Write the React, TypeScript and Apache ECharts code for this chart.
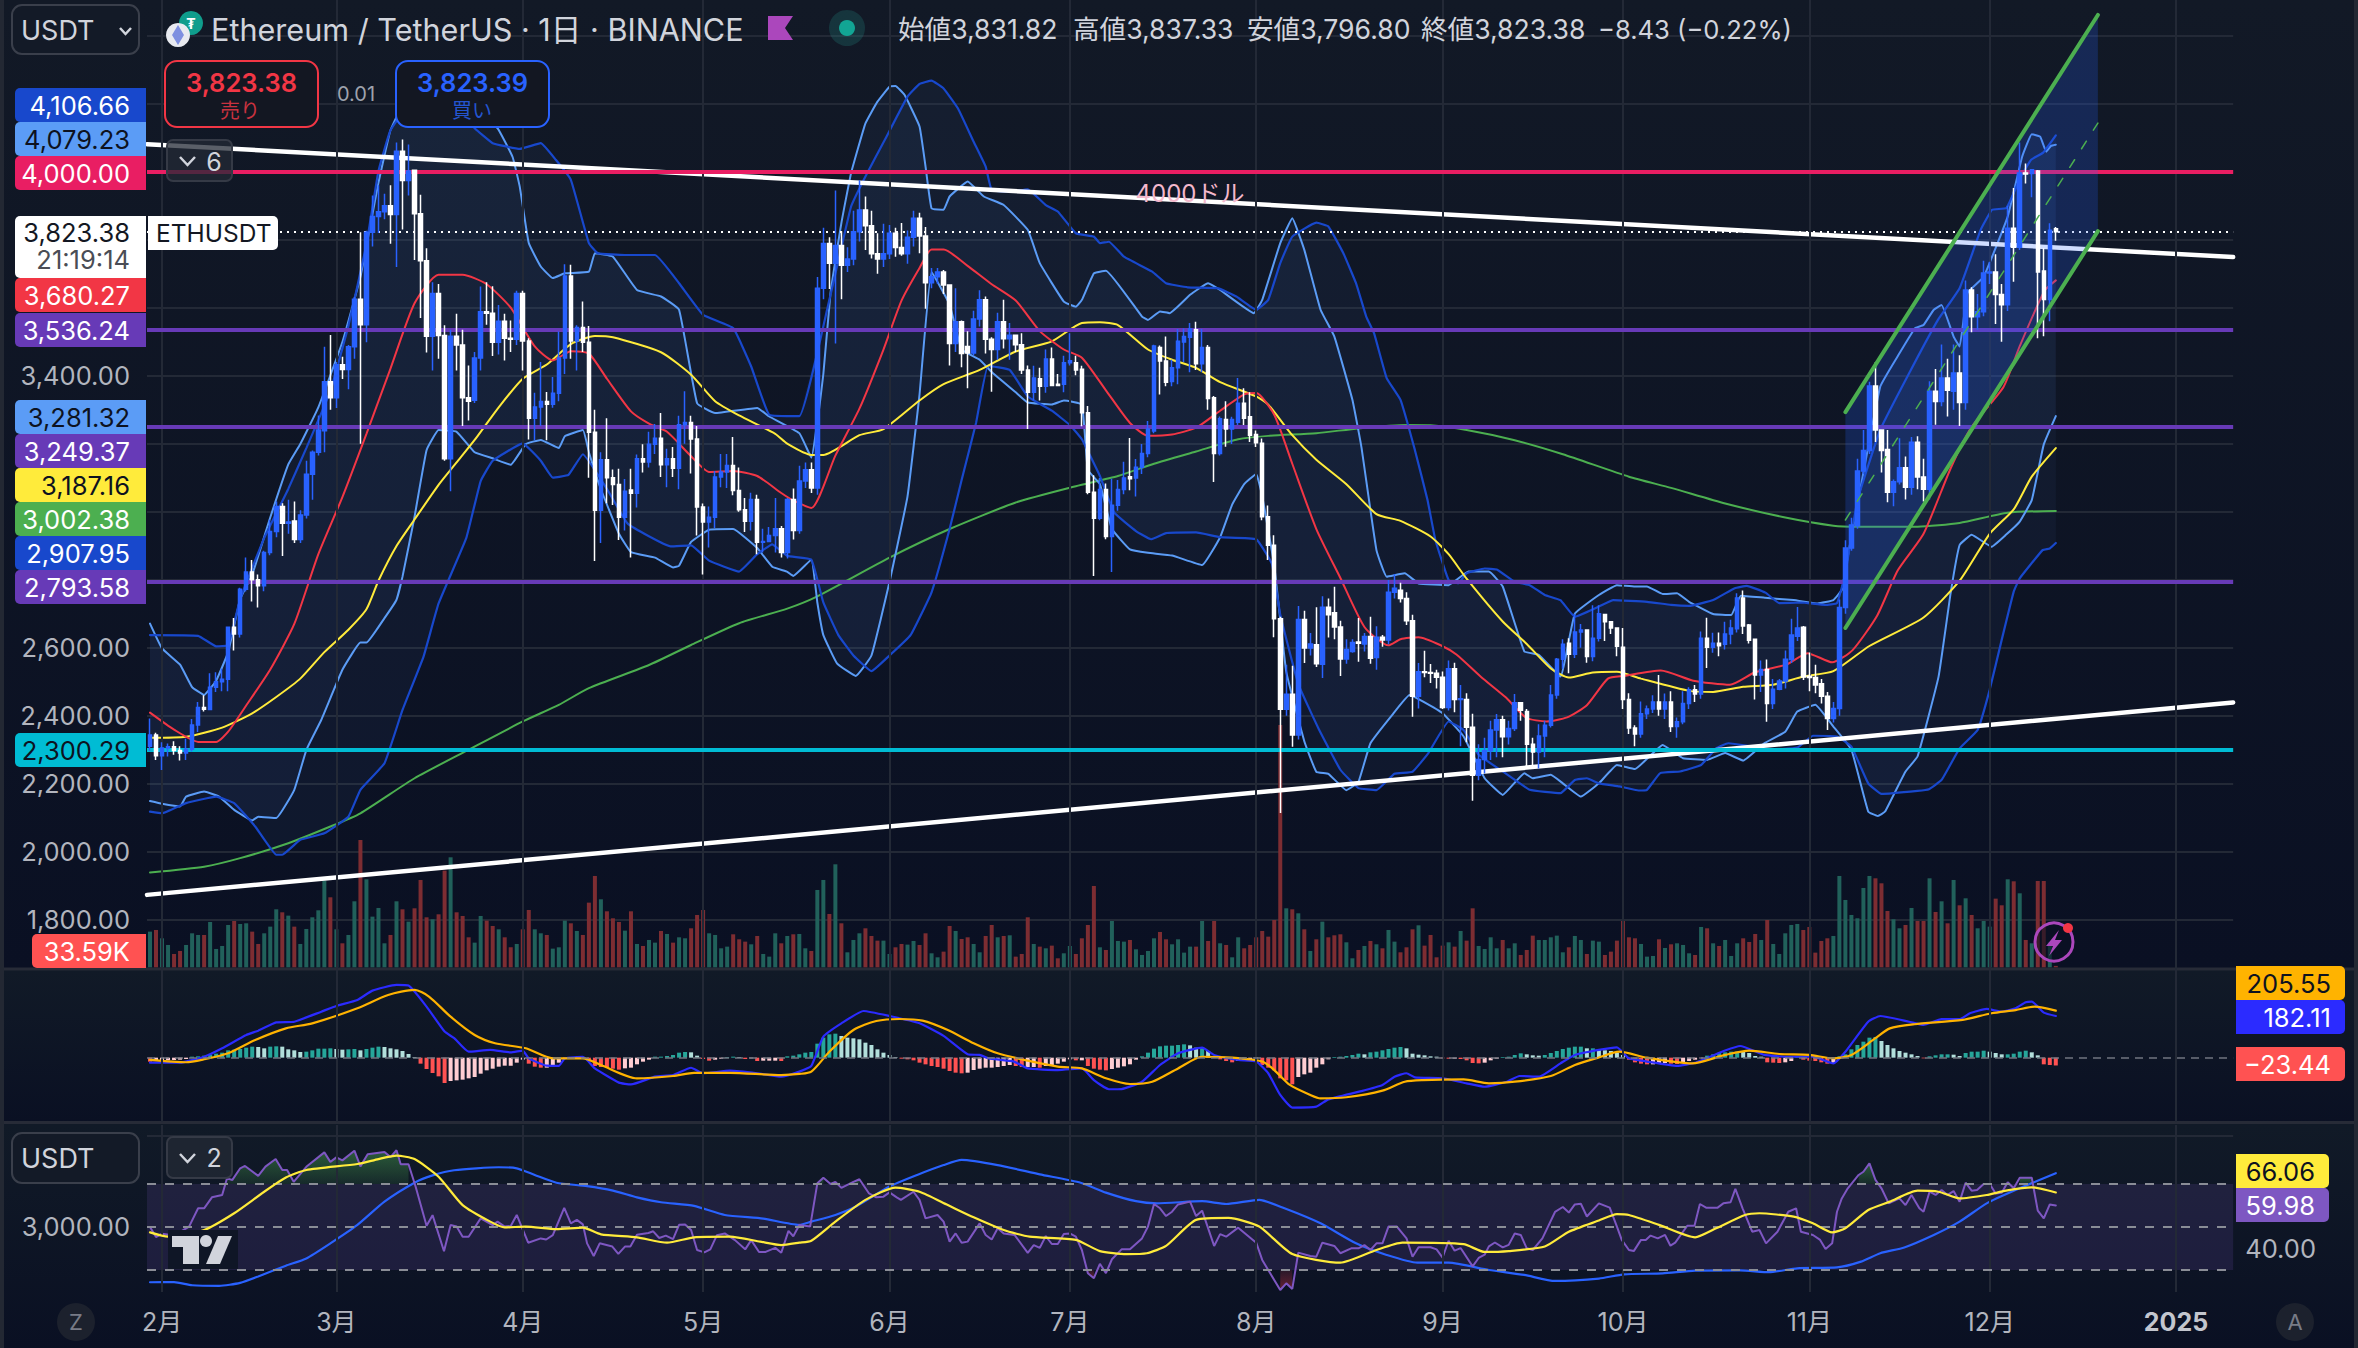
import React, { useEffect, useRef } from "react";
import * as echarts from "echarts";

// ---------- candles: [open, close, low, high] ----------
const candlesJan = [[2310,2343,2296,2392],[2343,2282,2270,2350]];
const candlesFeb = [[2282,2305,2240,2322],[2305,2309,2280,2318],[2309,2298,2285,2325],[2298,2290,2268,2310],[2290,2301,2270,2332],[2301,2373,2295,2390],[2373,2424,2352,2440],[2424,2419,2412,2460],[2418,2484,2416,2525],[2484,2500,2470,2528],[2500,2507,2472,2538],[2507,2660,2472,2662],[2660,2640,2592,2687],[2640,2772,2630,2776],[2772,2823,2765,2865],[2823,2800,2736,2858],[2800,2782,2718,2815],[2782,2880,2766,2885],[2880,2942,2872,2976],[2942,3015,2925,3030],[3015,2966,2870,3025],[2966,2970,2935,3035],[2973,2918,2908,3030],[2918,2990,2908,3004],[2990,3110,2980,3150],[3110,3175,3035,3180],[3175,3240,3165,3283],[3238,3382,3175,3485],[3382,3335,3300,3520]];
const candlesMar = [[3335,3432,3305,3440],[3432,3418,3390,3456],[3418,3485,3360,3490],[3485,3625,3450,3632],[3625,3550,3200,3822],[3550,3822,3498,3826],[3822,3868,3780,3930],[3868,3882,3820,3960],[3882,3900,3860,3935],[3900,3874,3788,3960],[3874,4060,3720,4086],[4060,3974,3830,4095],[3974,4002,3930,4080],[4004,3876,3740,4006],[3876,3738,3570,3932],[3738,3516,3468,3775],[3516,3642,3415,3675],[3642,3518,3450,3670],[3518,3156,3150,3548],[3156,3516,3060,3535],[3516,3490,3415,3582],[3490,3335,3252,3535],[3335,3325,3268,3430],[3328,3452,3320,3470],[3452,3588,3415,3662],[3588,3584,3550,3675],[3584,3498,3458,3663],[3498,3560,3462,3608],[3560,3510,3445,3582],[3510,3507,3470,3562],[3507,3642,3490,3650]];
const candlesApr = [[3642,3502,3415,3650],[3502,3275,3212,3510],[3275,3308,3210,3350],[3308,3324,3252,3440],[3324,3316,3210,3352],[3316,3348,3306,3396],[3348,3452,3325,3530],[3452,3693,3405,3728],[3693,3502,3450,3726],[3502,3542,3415,3548],[3542,3498,3470,3618],[3498,3234,3100,3546],[3234,3004,2855,3300],[3004,3153,2908,3175],[3153,3100,3025,3275],[3100,3080,3020,3124],[3080,2984,2917,3126],[2984,3060,2945,3096],[3064,3054,2865,3126],[3054,3156,3012,3168],[3156,3146,3115,3198],[3146,3198,3130,3235],[3198,3216,3170,3258],[3216,3138,3102,3290],[3138,3156,3072,3185],[3156,3128,3102,3190],[3128,3256,3066,3282],[3256,3262,3200,3354],[3262,3214,3112,3282],[3214,3014,2930,3252]];
const candlesMay = [[3014,2970,2815,3024],[2970,2984,2895,3015],[2984,3102,2952,3120],[3102,3117,3072,3170],[3117,3136,3070,3170],[3136,3062,3048,3220],[3062,3006,3000,3130],[3006,2972,2940,3040],[2972,3036,2945,3056],[3036,2910,2875,3050],[2910,2912,2880,2950],[2912,2930,2910,2955],[2930,2950,2880,3040],[2950,2880,2865,2958],[2880,3036,2862,3040],[3036,2945,2918,3068],[2945,3090,2935,3135],[3090,3123,3070,3145],[3123,3070,3055,3145],[3070,3657,3050,3690],[3657,3789,3625,3835],[3789,3731,3655,3807],[3731,3783,3495,3945],[3783,3725,3625,3825],[3725,3743,3705,3778],[3743,3823,3725,3885],[3823,3887,3795,3975],[3887,3841,3770,3927],[3841,3759,3745,3885],[3759,3743,3700,3819],[3743,3759,3720,3847]];
const candlesJun = [[3759,3819,3743,3843],[3819,3777,3750,3835],[3777,3759,3753,3849],[3759,3807,3729,3827],[3807,3863,3780,3885],[3863,3811,3760,3879],[3811,3673,3597,3837],[3673,3691,3657,3717],[3691,3705,3670,3717],[3705,3667,3640,3711],[3667,3495,3430,3667],[3495,3559,3470,3657],[3559,3465,3425,3562],[3486,3467,3363,3531],[3467,3567,3460,3591],[3567,3623,3545,3651],[3623,3507,3465,3633],[3507,3477,3353,3513],[3477,3559,3447,3585],[3559,3509,3480,3623],[3509,3519,3447,3555],[3519,3491,3470,3520],[3491,3417,3405,3525],[3417,3351,3243,3430],[3351,3393,3327,3429],[3391,3369,3327,3423],[3369,3449,3350,3477],[3449,3371,3369,3483],[3375,3371,3369,3405],[3375,3438,3351,3459]];
const candlesJul = [[3438,3444,3430,3525],[3438,3417,3401,3459],[3419,3291,3251,3429],[3291,3057,3051,3311],[3057,2981,2811,3107],[2981,3065,2975,3099],[3065,2927,2919,3083],[2927,3019,2823,3097],[3019,3065,3003,3093],[3065,3099,3051,3147],[3103,3097,3063,3217],[3099,3131,3045,3155],[3131,3171,3111,3199],[3171,3243,3160,3267],[3237,3487,3231,3491],[3483,3443,3345,3489],[3443,3381,3369,3515],[3383,3423,3369,3447],[3423,3501,3375,3537],[3499,3515,3440,3539],[3513,3537,3410,3555],[3535,3435,3417,3559],[3435,3483,3411,3537],[3483,3333,3300,3490],[3335,3171,3087,3340],[3171,3273,3165,3280],[3271,3243,3191,3325],[3243,3271,3199,3279],[3263,3319,3255,3393],[3319,3275,3255,3363],[3279,3225,3205,3351]];
const candlesAug = [[3227,3203,3190,3239],[3201,2985,2975,3215],[2985,2901,2858,3018],[2901,2685,2631,2931],[2685,2419,2114,2691],[2419,2463,2400,2550],[2463,2343,2309,2547],[2343,2683,2330,2723],[2683,2599,2555,2709],[2599,2611,2577,2643],[2609,2553,2543,2719],[2551,2719,2511,2751],[2719,2697,2630,2745],[2703,2661,2625,2779],[2661,2567,2517,2679],[2567,2595,2553,2625],[2589,2615,2585,2625],[2617,2613,2559,2687],[2611,2633,2589,2643],[2633,2569,2553,2691],[2571,2631,2535,2663],[2631,2623,2603,2637],[2623,2763,2610,2799],[2763,2775,2745,2817],[2769,2745,2733,2791],[2745,2679,2667,2763],[2679,2457,2397,2697],[2457,2529,2421,2555],[2529,2527,2513,2591],[2527,2525,2496,2552],[2525,2513,2480,2535]];
const candlesSep = [[2513,2424,2420,2530],[2424,2538,2415,2562],[2538,2448,2410,2556],[2448,2450,2310,2490],[2448,2366,2322,2466],[2366,2225,2150,2406],[2225,2271,2210,2316],[2271,2297,2230,2335],[2297,2358,2270,2385],[2358,2388,2278,2405],[2388,2338,2278,2400],[2338,2362,2315,2385],[2362,2438,2355,2464],[2438,2416,2385,2440],[2412,2316,2250,2420],[2316,2293,2255,2335],[2293,2340,2245,2375],[2340,2372,2278,2385],[2372,2461,2365,2490],[2461,2566,2450,2570],[2566,2610,2538,2625],[2613,2581,2525,2628],[2581,2646,2570,2700],[2646,2652,2600,2670],[2652,2574,2556,2652],[2574,2628,2560,2725],[2628,2700,2618,2725],[2698,2676,2620,2700],[2676,2658,2640,2678],[2658,2604,2575,2660]];
const candlesOct = [[2601,2448,2420,2658],[2448,2364,2346,2466],[2364,2346,2310,2372],[2346,2406,2335,2442],[2406,2420,2390,2430],[2420,2440,2408,2460],[2440,2420,2400,2520],[2420,2440,2390,2465],[2440,2368,2352,2472],[2368,2382,2335,2395],[2382,2436,2375,2472],[2436,2476,2420,2484],[2476,2464,2440,2490],[2464,2628,2450,2648],[2628,2601,2540,2688],[2601,2613,2585,2644],[2613,2606,2575,2645],[2610,2640,2595,2676],[2640,2658,2610,2682],[2656,2746,2645,2760],[2746,2664,2640,2768],[2667,2622,2612,2670],[2625,2520,2448,2625],[2520,2536,2470,2562],[2536,2436,2382,2565],[2436,2478,2420,2508],[2478,2502,2475,2508],[2502,2566,2480,2592],[2565,2637,2555,2685],[2634,2658,2620,2720],[2660,2514,2505,2664]];
const candlesNov = [[2516,2512,2472,2586],[2512,2490,2466,2550],[2494,2457,2436,2508],[2457,2392,2358,2470],[2392,2421,2380,2440],[2421,2718,2400,2742],[2718,2893,2700,2916],[2893,2961,2885,2982],[2959,3120,2950,3156],[3120,3180,3110,3240],[3180,3370,3170,3382],[3370,3240,3205,3440],[3240,3180,3115,3240],[3183,3057,3028,3240],[3057,3088,3016,3095],[3088,3129,3080,3216],[3129,3072,3036,3162],[3072,3204,3050,3220],[3204,3102,3066,3222],[3102,3066,3030,3156],[3066,3354,3036,3384],[3354,3324,3256,3420],[3324,3393,3310,3492],[3393,3357,3280,3450],[3354,3408,3300,3492],[3408,3321,3252,3460],[3321,3652,3300,3680],[3652,3573,3528,3660],[3573,3588,3535,3640],[3588,3702,3575,3738]];
const candlesDec = [[3702,3705,3670,3735],[3705,3639,3552,3757],[3639,3609,3500,3670],[3609,3834,3590,3900],[3834,3778,3676,3952],[3778,3996,3770,4086],[3996,3993,3965,4024],[3995,4006,3925,4008],[4002,3705,3510,4005],[3708,3624,3516,3775],[3624,3828,3560,3848],[3831.82,3823.38,3796.8,3837.33]];

// ---------- volume in thousands ----------
const volumeH1 = [856,896,696,536,320,392,536,816,776,776,1088,440,512,1016,1112,1040,1056,856,560,816,976,1392,1320,1240,976,560,920,1200,1368,2080,1680,912,576,776,1584,3056,2112,1216,1424,576,776,1584,1392,1096,1416,2096,1200,1152,1272,2320,2640,1320,1232,720,592,1232,1120,992,912,720,480,560,912,1376,912,816,776,448,480,1120,1056,872,776,1552,2192,1632,1344,1176,1088,880,1344,560,512,656,592,872,800,592,720,696,936,1256,1376,816,776,456,496,792,672,616,552,752,320,256,816,576,752,792,800];
const volumeMid = [456,392,1856,2096,1280,2472,1056,360,656,816,936,752,640,640,320,480,560,544,632,536,816,336,240,376,992,872,680,720,560,360,752,1016,720,752,768,256,320,1200,560,496,456,520,216,336,512,320,696,1016,1952,480,416,1112,632,616,656,432,296,392,696,848,672,552,672,352,496,496,1112,632,1112,576,536,240,720,456,536,720,872,736,1136,5816,1416,1392,1296,912,392,672,1096,720,768,792,600,216,416,512,632,552,456,896,616,360,480,912,1008,520,776,240,520,600,496,872,640,1416,512,440,720,456,656,456,576,296,416,760,656,656,720,760,360,480,752,656,320,640,616];
const volumeH2 = [296,376,640,1112,720,696,560,256,272,672,464,552,576,536,336,296,968,936,576,512,656,272,576,696,608,800,656,1136,560,320,816,1016,1040,896,968,352,632,696,752,2192,1616,1256,1176,1904,2192,2136,2016,1352,1152,936,1016,1424,1112,1112,2136,1328,1584,1056,2096,1488,1656,1256,936,1112,976,1648,1488,2112,2064,1776,656,576,2072,2072,600,33.59];

// ---------- MACD histogram ----------
const histH1 = [-12,-10,-9,-8,-7,-6,-4,3,4,6,9,12,15,22,24,26,30,33,32,28,33,34,33,25,22,17,18,22,27,27,28,26,24,25,26,22,26,30,33,32,28,25,20,11,2,-18,-34,-46,-56,-76,-70,-68,-66,-62,-58,-48,-38,-33,-27,-24,-24,-15,-6,-18,-27,-30,-30,-25,-15,-4,-2,2,-2,-10,-25,-28,-30,-33,-36,-32,-30,-20,-12,-6,3,3,5,8,15,17,16,6,-4,-9,-6,-3,2,3,2,-4,-2,-10,-9,-9,-9,-10,4,6];
const histMid = [10,15,17,42,60,70,72,65,60,58,55,45,38,25,15,8,2,-3,-5,-8,-15,-20,-25,-28,-33,-40,-45,-47,-45,-37,-33,-30,-30,-28,-25,-22,-25,-28,-28,-28,-30,-25,-22,-18,-12,-5,-8,-8,-25,-33,-36,-38,-34,-30,-26,-20,-6,4,15,27,34,36,36,38,40,37,30,30,20,5,-5,-10,-14,-10,-6,-6,-2,-22,-30,-38,-62,-68,-80,-58,-50,-45,-30,-20,-5,2,3,5,8,12,10,16,18,22,26,30,32,28,12,9,7,4,3,-2,-3,-3,-4,-8,-16,-17,-15,-8,-3,2,3,8,13,10,7,6,8,14,20,26,30,33,33,28,28,25];
const histH2 = [22,20,15,8,-6,-14,-18,-20,-20,-18,-16,-18,-19,-14,-10,-6,-2,6,10,14,16,18,18,17,14,5,3,-14,-15,-16,-14,-10,3,-6,-9,-10,-14,-18,-16,4,10,25,38,48,60,62,50,38,28,20,15,10,5,-2,4,7,10,10,9,5,14,18,18,21,18,14,10,10,12,18,21,16,7,-20,-22,-23.44];

// ---------- overlays on the price pane: [day since 1 Feb, price] ----------
const emaRed = [[-2,2409],[2,2359],[6,2323],[9,2323],[11,2353],[14,2430],[18,2536],[22,2670],[26,2875],[30,3043],[34,3229],[38,3421],[42,3613],[46,3697],[50,3697],[54,3669],[58,3600],[62,3486],[65,3445],[68,3472],[71,3465],[74,3391],[78,3295],[81,3259],[84,3235],[88,3163],[91,3117],[95,3120],[99,3105],[103,3055],[105,3033],[108,3011],[112,3165],[116,3303],[120,3477],[123,3621],[126,3717],[128,3771],[130,3771],[134,3723],[138,3669],[142,3621],[146,3531],[150,3477],[153,3453],[157,3357],[161,3261],[164,3223],[168,3227],[172,3247],[176,3297],[180,3345],[182,3349],[185,3285],[188,3141],[192,2949],[196,2805],[200,2661],[204,2607],[206,2625],[209,2631],[212.6,2608],[215.3,2580],[219.4,2514],[223.5,2454],[226.9,2394],[230.3,2383],[233.7,2395],[237,2431],[240.5,2509],[243.2,2517],[249.3,2533],[254.7,2503],[260.8,2491],[264.9,2527],[270.3,2551],[273.7,2584],[277.8,2557],[281.2,2593],[285.3,2695],[288.7,2827],[293,2935],[297.5,3127],[300.9,3247],[306.3,3367],[309,3487],[313.1,3649],[315,3680.27]];
const emaYellow = [[-2,2335],[4,2338],[10,2365],[15,2407],[19,2455],[23,2509],[27,2587],[31,2653],[34,2713],[36,2797],[39,2899],[42,2977],[46,3079],[49,3145],[52,3211],[56,3307],[60,3391],[64,3433],[68,3493],[72,3517],[75,3513],[83,3469],[88,3403],[92,3325],[96,3283],[102,3229],[104,3200],[108,3167],[110,3167],[116,3225],[120,3243],[126,3327],[130,3375],[136,3417],[142,3471],[148,3501],[153,3555],[156,3557],[159,3549],[164,3477],[168,3447],[172,3423],[176,3381],[182,3339],[184,3315],[188,3225],[192,3153],[197,3081],[202,2993],[206,2973],[211,2927],[214,2875],[217,2803],[223,2677],[227,2611],[231,2539],[234,2512],[238,2527],[242,2529],[246,2509],[254,2473],[258,2470],[263,2485],[268,2491],[273,2515],[278,2531],[284,2605],[293,2689],[299,2797],[304,2935],[308,3007],[311,3103],[315,3187.16]];
const emaGreen = [[-2,1939],[7,1956],[13,1981],[21,2025],[28,2074],[33,2113],[42,2216],[51,2300],[60,2383],[66,2432],[71,2481],[81,2549],[88,2608],[96,2672],[104,2715],[109,2751],[121,2865],[131,2949],[142,3027],[152,3075],[159,3105],[165,3141],[172,3177],[179,3213],[184,3223],[192,3231],[199,3245],[207,3255],[211,3254],[217,3240],[225,3210],[233,3169],[244,3103],[251,3070],[260,3024],[270,2983],[278,2959],[282,2956],[292,2956],[299,2967],[307,2997],[315,3002.38]];
const bandLightUpper = [[-2,2671],[0,2598],[3,2550],[5,2484],[7,2461],[9,2503],[11,2587],[13,2743],[15,2815],[18,2983],[21,3139],[23,3199],[26,3307],[30,3499],[33,3691],[36,3967],[38,4122],[41,4230],[45,4280],[50,4240],[52,4190],[55.8,4128],[58.3,4044],[59.5,3956],[61,3790],[63,3721],[65,3687],[67,3701],[71,3706],[72,3760],[75,3750],[79,3652],[83,3633],[86,3594],[89,3319],[92,3290],[99,3305],[101,3280],[106,3231],[108,3159],[110,3405],[111.2,3645],[113,3849],[114.6,3995],[117,4142],[119,4206],[121,4250],[122,4252],[123.5,4226],[126,4133],[127,4015],[128,3892],[130,3888],[131,3927],[134,3971],[136.7,3927],[140,3902],[144,3829],[146,3731],[150,3618],[152,3603],[153,3623],[155,3701],[157,3709],[163,3574],[164,3564],[166,3589],[167.6,3584],[171,3638],[174,3672],[176,3652],[181.6,3584],[183,3623],[186,3790],[188,3863],[190,3770],[192.7,3594],[195,3515],[198,3329],[199.5,3190],[202,2887],[203.7,2809],[206.7,2819],[209,2789],[214,2784],[217.3,2824],[220.7,2824],[223,2780],[226.6,2589],[229,2579],[232.6,2515],[235,2700],[239,2755],[242,2784],[245,2780],[247,2780],[249.6,2758],[252,2760],[254,2735],[258,2699],[261,2696],[262.6,2753],[266.6,2747],[271.4,2740],[275.4,2730],[278,2740],[279.4,2770],[280.6,2888],[285.8,3368],[289,3466],[291.6,3540],[293,3549],[294.7,3594],[296,3608],[298,3515],[299,3486],[300.3,3643],[303,3691],[307,3868],[309.4,4044],[311,4110],[312.4,4103],[313.4,4059],[314.2,4076],[315,4079.23]];
const bandLightLower = [[-2,2149],[0,2141],[3,2133],[4,2162],[7,2177],[9.5,2162],[12,2123],[15,2092],[16,2103],[19,2099],[22,2182],[24,2299],[26.5,2388],[30,2535],[33,2615],[34,2615],[37,2687],[39,2741],[40,2809],[42,2985],[44,3181],[46,3240],[49,3235],[52,3175],[55,3157],[58,3138],[60.5,3199],[63,3211],[66,3187],[67,3222],[70,3240],[71,3175],[73,3066],[76,2935],[78,2881],[82,2865],[85,2836],[86,2841],[88,2911],[91,2947],[95,2949],[99,2893],[101.5,2838],[104,2823],[105,2811],[108,2859],[109,2733],[110,2637],[112.3,2553],[115.4,2517],[118,2577],[121,2793],[124,3045],[126,3345],[128,3705],[131,3609],[133,3477],[136,3447],[138,3411],[142,3351],[144,3321],[148,3315],[150,3327],[153,3315],[154,3123],[156,3081],[158,2949],[161,2889],[164,2879],[168,2871],[173,2843],[176,2925],[178,3021],[180,3081],[182,3111],[183,3045],[185,2841],[187,2529],[190,2325],[192,2235],[194,2229],[197,2181],[199,2205],[201,2319],[204.6,2402],[207.5,2461],[209.7,2442],[213,2407],[216.5,2339],[220,2216],[223,2167],[226.6,2231],[228,2216],[231,2226],[233,2201],[236,2162],[239,2201],[242,2255],[245,2243],[249.6,2314],[253,2275],[257,2270],[260,2290],[263,2268],[266.5,2319],[270,2353],[272,2412],[275,2432],[278,2368],[281,2300],[283.8,2118],[285.4,2105],[286.6,2118],[290,2236],[292,2280],[295.5,2515],[297.5,2760],[299,2902],[301,2932],[304.3,2897],[306.7,2932],[309,2971],[311,3034],[313,3198],[315,3281.32]];
const bandDarkUpper = [[-2,2637],[6,2635],[9,2604],[11,2608],[13,2743],[17,2923],[21,3067],[24,3187],[28,3355],[31,3546],[34,3786],[36,4002],[38,4122],[42,4220],[46,4230],[50,4170],[52,4128],[55,4084],[59.5,4067],[63,4084],[65.5,4035],[68,3976],[71,3790],[72.5,3760],[77,3755],[82,3755],[86,3672],[90,3579],[95,3540],[98,3427],[101,3285],[106,3281],[111,3623],[114.6,3897],[117,3986],[120.5,4103],[124,4221],[126,4258],[128,4268],[130,4245],[132.4,4186],[135,4088],[137,4015],[138,3946],[141,3941],[144,3948],[147,3902],[149,3883],[152,3819],[155,3809],[156,3790],[157.5,3794],[160,3750],[164.7,3706],[167,3672],[170.6,3660],[175.7,3657],[178.7,3633],[182,3594],[184,3623],[186,3731],[188,3809],[192,3850],[194,3839],[196.5,3760],[198.6,3672],[200.3,3574],[201.6,3525],[203.7,3393],[206,3329],[208.4,3181],[210.5,3034],[211.8,2917],[214,2799],[215.6,2789],[217,2819],[220,2833],[222,2830],[225,2794],[227.5,2784],[230,2755],[232.6,2740],[235,2691],[239,2721],[241.4,2740],[247,2735],[251,2726],[254,2723],[258,2740],[261.6,2775],[263.6,2782],[266.7,2762],[269,2731],[272.6,2733],[276.6,2726],[278.6,2731],[280,2819],[282,3034],[285.8,3241],[290.6,3407],[295.4,3564],[299,3657],[302.5,3829],[304.4,3888],[306.8,3893],[309.2,3986],[310.9,4035],[312.9,4056],[315,4106.66]];
const bandDarkLower = [[-2,2118],[0,2113],[4,2143],[9,2162],[12,2143],[15.5,2074],[19,1991],[20,1991],[23,2035],[27,2054],[31,2103],[33,2182],[37,2260],[40,2417],[43.5,2574],[46,2730],[50.6,2922],[53,3090],[55,3150],[60,3201],[63,3150],[65,3100],[67.6,3108],[70,3169],[74,3067],[77.5,2964],[84.6,2898],[88,2901],[91,2856],[96,2824],[99,2875],[101.5,2904],[104,2870],[108,2859],[110,2733],[112.5,2637],[115,2577],[118,2531],[121,2577],[124.5,2637],[128,2763],[131,2949],[133,3093],[135.4,3261],[137.4,3429],[141,3417],[144,3339],[148,3297],[151,3255],[153,3213],[156,3105],[158.4,2997],[162,2943],[164.5,2919],[167,2937],[172,2939],[176,2925],[182,2919],[184.6,2847],[186,2697],[189,2493],[192.4,2361],[196,2241],[199,2187],[202,2181],[205,2229],[208,2235],[210.6,2289],[214,2383],[216.5,2358],[219,2285],[223,2236],[227.5,2182],[232.6,2172],[235,2211],[237,2216],[239,2201],[242.4,2192],[245.6,2180],[247,2182],[249.2,2231],[252.5,2236],[256,2255],[258.5,2304],[260.5,2319],[263.7,2311],[267,2299],[272,2306],[274.6,2341],[278.6,2339],[281,2309],[283.8,2201],[286,2170],[292,2179],[293.9,2184],[296,2211],[299,2304],[302,2358],[304,2476],[306,2623],[308,2765],[309,2804],[312.8,2887],[314,2892],[315,2907.95]];

// ---------- hand-drawn lines and levels ----------
const trendWhiteUpper = [[-2.5,4081],[344.5,3749]];
const trendWhiteLower = [[-2.5,1873],[344.5,2439]];
const channelUpper = [[280,3293],[322,4461]];
const channelLower = [[280,2658],[322,3825]];
const channelMiddle = [[280,2975.5],[322,4143]];
const levelPink = [4000];
const levelPurple = [3536.24,3249.37,2793.58];
const levelCyan = [2300.29];
const lastPrice = 3823.38;
const priceTicksShown = [3400,2600,2400,2200,2000,1800];

// ---------- MACD lines ----------
const macdLine = [[-2,-22],[3,-22],[7,4],[10,41],[14,99],[16,118],[19,154],[22,157],[26.5,201],[29,226],[32.5,252],[35,293],[39,318],[41,315],[44,223],[47,114],[48.6,85],[51,26],[54.6,34],[58,23],[60,31],[61,-3],[64,-35],[66,-36],[67,-3],[70,4],[72,-47],[76,-109],[78,-117],[82,-83],[85,-76],[88,-44],[90,-68],[94.5,-57],[99,-68],[103,-83],[106,-61],[108,-36],[110,92],[113,150],[116.7,204],[121,182],[126,150],[130,95],[134,15],[136,12],[137.5,-3],[141.7,-17],[144,-47],[149,-54],[153,-47],[155,-98],[157.5,-138],[159.6,-137],[163,-105],[166,-32],[169,19],[173,44],[175,12],[179,-10],[182,-17],[184,-68],[186,-163],[188,-218],[192,-214],[194,-182],[199.5,-146],[203,-119],[205,-83],[207,-68],[208.4,-86],[213,-90],[217,-112],[220,-127],[223.7,-105],[225.8,-80],[229,-83],[232.6,-25],[235,12],[239,34],[242,45],[244,-3],[247,-17],[252,-36],[255,-22],[260,31],[262.5,51],[266.5,12],[270.5,4],[274.6,4],[278,-25],[280,26],[283.8,157],[285.8,182],[290.6,157],[293,143],[296,168],[299,168],[300.7,194],[303.5,213],[306,201],[308.3,216],[310,242],[311,245],[313,197],[315,182.11]];
const macdSignal = [[-2,-10],[4,-20],[7,-7],[11,19],[15.5,77],[20.6,128],[25,150],[32.5,216],[37.6,274],[42,296],[44.4,267],[48,179],[52,99],[55.4,63],[60.5,41],[65,-3],[70,-3],[73,-32],[79,-90],[85,-80],[88.5,-66],[94.5,-66],[103,-76],[106,-71],[108,-61],[111,26],[115,121],[118.8,160],[122.7,169],[126.5,162],[130.7,121],[135,63],[139,19],[144,-13],[149,-39],[153,-47],[157,-90],[161,-115],[164.7,-105],[169,-47],[173,4],[178,0],[183,-17],[185,-54],[187.6,-119],[191,-163],[192.7,-178],[197,-173],[203,-144],[206.7,-105],[209.7,-98],[216.5,-95],[220.7,-112],[225,-105],[231,-80],[235,-32],[239,1],[242.4,26],[247,0],[254.5,-25],[260,12],[264,31],[269,16],[274,12],[278,-3],[281,12],[285,85],[287.4,128],[291.5,146],[299.5,165],[304.3,194],[308.3,208],[311.5,223],[315,205.55]];

// ---------- RSI pane ----------
const rsiLine = [[-2,50],[-1,45.3],[0,46.9],[2,46],[4.5,50.2],[6,58.7],[7,58.7],[8.3,63.8],[10,64.9],[10.8,72.6],[11.7,71.9],[13,77.3],[13.8,78.4],[16,73.8],[17.2,78.1],[18.9,81.6],[20,76.5],[20.8,76.5],[21.9,71],[24,78],[27,84.7],[28,80.3],[29,82.4],[30,81],[32,85.5],[33,78.2],[34.2,83.8],[37,84.9],[38,82.5],[39,85.7],[39.7,79.2],[41,79.2],[42.2,68.6],[44,50.6],[45,55.5],[46.9,38.7],[48,50.9],[49,50.2],[50,45.5],[51,45.5],[53,54],[55,50.9],[55.8,52.5],[57,50.2],[58,50.5],[59,55.6],[60.9,42.7],[63,44.7],[63.9,44.2],[65,46.2],[66.9,58.9],[68,51.7],[69,53.3],[70,51.2],[70.7,42.4],[71.8,36.5],[72.8,42.4],[74.9,40.9],[75.9,37.5],[77,40.9],[77.9,40.9],[79,46.4],[80.9,47.2],[81.7,48],[82.7,44.9],[83.8,46],[85,44.4],[86,51],[87,51.2],[88,48.6],[89,39.3],[90.2,38.2],[91.2,39.6],[92.3,46.2],[93.6,47],[95.3,43.9],[97,39.6],[98,43.9],[99.3,38.4],[100.4,38.4],[102,40.3],[103,38],[104.2,48.2],[105,45.7],[106,50.9],[107.8,50.2],[109,70.3],[110,72.9],[111.2,70],[112,71],[113,68.2],[115,71],[116,72.2],[117.6,65.6],[118.8,63.8],[120,64.1],[121,66.1],[122.2,63.8],[122.9,62.6],[125,66.4],[126,62.6],[127,54],[129,55.6],[130,52.5],[131,43.2],[132,47],[133,42.7],[134,43.2],[136,51.7],[137,46.3],[138,44.2],[139,49.4],[140,47],[141.8,46.3],[144,38],[145,41.6],[146,40.3],[147,45.8],[148,42.1],[149,42.1],[150,46.7],[151,47],[152,45.5],[153,39.3],[154,28.5],[155,26.2],[156,32.9],[157,28.5],[158,35],[159.6,39.6],[161,39.6],[163,44.7],[164,50.2],[165,60.7],[166,58.7],[167,55.1],[168,57.1],[169,60.5],[171,61.8],[172,55.1],[173,57.6],[175,41.2],[176,46.7],[177,45.5],[179,49.7],[182,42.7],[183,34.7],[184,30],[186,20.7],[187,23.8],[188,21.2],[189,38.1],[191,36.5],[192,36.2],[193,42.7],[195,41.2],[196,37.8],[197.8,40.1],[199,40.1],[200,41.6],[201,39.3],[202,42.4],[203,42.4],[204,50.2],[205.4,50.2],[207,44.7],[208,36.2],[209,40.6],[211,40.6],[212,39.6],[213,35.8],[214,43.6],[215,39],[216,40.2],[218,31.7],[219,35.6],[220,37.1],[220.7,41],[221.7,42.8],[223,40.5],[224,41.7],[225,47],[226,46.3],[227,40.1],[228,39.3],[229.6,44.7],[231.7,57],[233,59.3],[234,56.7],[235,60.5],[236,60.8],[237,54.9],[239,61],[240.8,59],[242,50.2],[242.8,44],[244,39.3],[244.8,38.8],[246,44],[246.8,44],[247.6,46],[248.8,44.7],[250,46.3],[250.9,41.3],[251.7,42.7],[253.7,50.6],[254.9,50.6],[255.8,60.7],[256.9,58.9],[258.7,58.9],[259.7,61],[260.9,61.5],[261.7,67.7],[262.9,58.7],[264.5,47.8],[265.7,48.6],[266.8,42.4],[268.7,47.8],[270.5,57.1],[271.8,58.7],[272.6,47.8],[274.6,46.3],[275.8,44],[276.7,39.8],[277.8,42.4],[278.6,57.1],[279.4,63.3],[280.4,68],[282.2,74.2],[283,75.7],[284,79.6],[285,71.9],[286,68],[287.2,61],[289,63.3],[290,60.2],[291,64.9],[292.3,58.7],[293,57.1],[294,66.4],[295,64.9],[296,67.2],[297,64.9],[298,66.7],[299,61.8],[300,70.6],[301,66.9],[301.9,67.2],[303,70],[304,70],[305,65.6],[306,65.9],[307,70.8],[308,68],[309,72.9],[311,72.9],[312,57.6],[313,54],[314,60.5],[315,59.98]];
const rsiAverage = [[-2,47.5],[1,45.5],[7,48.6],[12,56.4],[17,66.4],[20.6,73],[24,76.5],[32.5,79.3],[36,81.6],[39,83.2],[42,81.6],[46,73.4],[50,60.2],[54.6,52.5],[57,49.8],[60.5,50.2],[65.6,49],[70,49.7],[73,46.6],[79,45.2],[84,42.7],[88.5,45.2],[94.5,45.5],[99.5,43.2],[103,41.6],[106,42.7],[108,43.6],[112,52.5],[117,62.6],[122,68.3],[126,66.4],[130.7,60.2],[135,54.5],[140,48.6],[144.3,45.5],[152,44],[156,38.8],[160.4,37.4],[163.8,37.8],[167,41.2],[172,53.3],[177.4,54.2],[182.5,50.2],[188,37.4],[196,33.4],[202,39.3],[206.3,42.7],[216.5,42],[220,38.4],[224,38.8],[230,40.9],[234,47.8],[239,53],[242,56],[244,55.6],[249,51],[255,45.2],[258.5,49.4],[263.3,55.6],[265.7,56.4],[271.4,54.8],[274.6,51.7],[277.8,47.5],[280,49.4],[283.8,57.9],[287.4,61.8],[292,66.9],[295.5,66.4],[299,63.3],[303.5,64.9],[306.7,66.9],[311,68.4],[315,66.06]];
const rsiLong = [[-2,24.3],[2,24.4],[5,22.9],[9.5,22.6],[13,24],[16,27],[20.6,32],[24,35.4],[28,42.4],[32.5,51],[37,61.8],[42,70.6],[45,74],[48.6,76.4],[56,77.8],[59,77.3],[62,74.2],[65.6,70.6],[70.7,69],[75,66.9],[79,63.8],[83,61.5],[88.5,59.8],[93.6,55.6],[100,53.9],[106,51],[108,52.5],[112,55.6],[115.4,59.5],[121,68.8],[125.6,74.2],[130,78.8],[133,81.2],[139,78.8],[146,74.5],[152.8,70.6],[157,66],[162,62],[165.5,61],[173,62],[177,60.7],[182.5,62.6],[186.7,58.7],[192.7,51.7],[198.6,42.4],[203.7,37],[208.8,33.4],[214,33.4],[220.7,30],[226.6,27.7],[231.7,24.9],[239,26],[243.2,28],[249.6,28.4],[255,29.7],[262.5,29.8],[267.3,29],[272,30.8],[278.6,31.2],[282.6,33.9],[285.8,37.8],[289.8,40.5],[294.7,46.3],[299,52.5],[303.5,61],[308.3,67.2],[315,75]];
const rsiLevels = [70,50,30];

const candles = [...candlesJan,...candlesFeb,...candlesMar,...candlesApr,...candlesMay,...candlesJun,...candlesJul,...candlesAug,...candlesSep,...candlesOct,...candlesNov,...candlesDec];
const volumes = [...volumeH1,...volumeMid,...volumeH2];
const hist = [...histH1,...histMid,...histH2];

// ---------- calendar of the axis ----------
const BAR_COUNT = 347;
const categories: string[] = [];
const monthStarts: number[] = [];
for (let i = 0; i < BAR_COUNT; i++) {
  const dt = new Date(Date.UTC(2024, 0, 30 + i));
  const y = dt.getUTCFullYear(), m = dt.getUTCMonth() + 1, day = dt.getUTCDate();
  categories.push(`${y}-${m}-${day}`);
  if (day === 1) monthStarts.push(i - 2);
}

const FONT = 'Inter, "Noto Sans CJK JP", sans-serif';
const GRID_LEFT = 147;
const GRID_WIDTH = 2086.16;
const GRIDLINE = "#232936";
const C = { up: "#2962ff", light: "#5b9cf6", dark: "#1848cc", red: "#f23645", yellow: "#ffeb3b", green: "#4caf50", pink: "#e91e63", purple: "#673ab7", cyan: "#00bcd4" };

const grad = (a: string, b: string) => ({ type: "linear", x: 0, y: 0, x2: 0, y2: 1, colorStops: [{ offset: 0, color: a }, { offset: 1, color: b }] });
const txt = (text: string, x: number, y: number, fill: string, size: number, align = "left", weight = "normal", z = 100) => ({
  type: "text", x, y, z, silent: true,
  style: { text, fill, font: `${weight} ${size}px ${FONT}`, textAlign: align, align, textVerticalAlign: "middle", verticalAlign: "middle" },
});
const box = (x: number, y: number, w: number, h: number, fill: any, r: any = 0, stroke?: string, lw = 2, z = 90) => ({
  type: "rect", z, silent: true, shape: { x, y, width: w, height: h, r }, style: { fill, stroke: stroke || "none", lineWidth: lw },
});
const chevron = (x: number, y: number, w: number, h: number, color: string) => ({
  type: "polyline", z: 101, silent: true, shape: { points: [[x, y], [x + w / 2, y + h], [x + w, y]] }, style: { stroke: color, fill: "none", lineWidth: 2.5 },
});
const tag = (y0: number, text: string, bg: string, fg: string) => [box(15, y0, 131, 34, bg, [5, 0, 0, 5]), txt(text, 130, y0 + 17, fg, 25.5, "right")];
const rightTag = (w: number, y0: number, text: string, bg: string, fg: string) => [box(2236, y0, w, 34, bg, [0, 5, 5, 0]), txt(text, 2236 + w - 14, y0 + 17, fg, 25.5, "right")];

const graphics: any[] = [
  box(0, 0, 2358, 1348, "#0a1023", 0, undefined, 0, -20),
  box(0, 0, 2358, 968, grad("#121926", "#0a1023"), 0, undefined, 0, -19),
  box(0, 970, 2358, 152, grad("#111a27", "#0a1023"), 0, undefined, 0, -19),
  box(0, 1124, 2358, 224, grad("#111a27", "#0a1023"), 0, undefined, 0, -19),
  box(4, 967.5, 2350, 3, "#272b37", 0, undefined, 0, -1),
  box(4, 1121, 2350, 3, "#272b37", 0, undefined, 0, -1),
  box(0, 0, 4, 1348, "#232833", 0, undefined, 0, 80),
  box(2354, 0, 4, 1348, "#232833", 0, undefined, 0, 80),

  box(12, 5, 127, 49, "#131a27", 10, "#3a3f4b"),
  txt("USDT", 21, 30, "#d1d4dc", 27),
  chevron(120, 28, 11, 6, "#d1d4dc"),

  { type: "circle", z: 92, silent: true, shape: { cx: 191, cy: 23, r: 12 }, style: { fill: "#0f9d8c" } },
  txt("₮", 191, 23, "#ffffff", 14, "center", "bold", 93),
  { type: "circle", z: 94, silent: true, shape: { cx: 178, cy: 35, r: 12 }, style: { fill: "#e8eaf0" } },
  { type: "polygon", z: 95, silent: true, shape: { points: [[178, 25], [184, 35], [178, 45], [172, 35]] }, style: { fill: "#7e8fe0" } },
  txt("Ethereum / TetherUS · 1日 · BINANCE", 211, 29, "#d1d4dc", 30.6),
  { type: "polygon", z: 92, silent: true, shape: { points: [[768, 16], [793, 16], [785, 28], [793, 40], [768, 40]] }, style: { fill: "#ab47bc" } },
  { type: "circle", z: 92, silent: true, shape: { cx: 847, cy: 28, r: 18 }, style: { fill: "rgba(38,166,154,0.2)" } },
  { type: "circle", z: 93, silent: true, shape: { cx: 847, cy: 28, r: 8 }, style: { fill: "#12a594" } },
  txt("始値3,831.82", 898, 29, "#d1d4dc", 26.6),
  txt("高値3,837.33", 1073, 29, "#d1d4dc", 26.6),
  txt("安値3,796.80", 1247, 29, "#d1d4dc", 26.6),
  txt("終値3,823.38", 1421, 29, "#d1d4dc", 26.6),
  txt("−8.43 (−0.22%)", 1598, 29, "#d1d4dc", 25.6),

  box(165, 61, 153, 66, "#131722", 12, C.red),
  txt("3,823.38", 241.5, 82, C.red, 25.5, "center", "600"),
  txt("売り", 240, 111, "#c8323f", 20, "center"),
  txt("0.01", 356, 94, "#9ea2ad", 20, "center"),
  box(396, 61, 153, 66, "#131722", 12, C.up),
  txt("3,823.39", 472.5, 82, C.up, 25.5, "center", "600"),
  txt("買い", 472, 111, "#2455d0", 20, "center"),

  box(167, 140, 65, 41, "rgba(35,41,54,0.75)", 6, "#353a46"),
  chevron(180, 157, 15, 8, "#d1d4dc"),
  txt("6", 214, 162, "#d1d4dc", 25, "center"),

  ...tag(88, "4,106.66", C.dark, "#ffffff"),
  ...tag(122, "4,079.23", C.light, "#0d1220"),
  ...tag(156, "4,000.00", C.pink, "#ffffff"),
  box(15, 216, 131, 62, "#ffffff", [5, 0, 0, 5]),
  txt("3,823.38", 130, 232, "#131722", 25.5, "right"),
  txt("21:19:14", 130, 259, "#4a4d55", 25.5, "right"),
  box(148, 216, 130, 34, "#ffffff", [0, 5, 5, 0]),
  txt("ETHUSDT", 156, 233, "#131722", 24.5),
  ...tag(278, "3,680.27", C.red, "#ffffff"),
  ...tag(313, "3,536.24", C.purple, "#ffffff"),
  ...tag(400, "3,281.32", C.light, "#0d1220"),
  ...tag(434, "3,249.37", C.purple, "#ffffff"),
  ...tag(468, "3,187.16", C.yellow, "#0d1220"),
  ...tag(502, "3,002.38", C.green, "#ffffff"),
  ...tag(536, "2,907.95", C.dark, "#ffffff"),
  ...tag(570, "2,793.58", C.purple, "#ffffff"),
  ...tag(733, "2,300.29", C.cyan, "#0d1220"),
  box(32, 934, 114, 34, "#ff5252", [5, 0, 0, 5]),
  txt("33.59K", 130, 951, "#ffffff", 25.5, "right"),

  txt("4000ドル", 1190, 193, "#f4b8cc", 24, "center"),

  { type: "circle", z: 92, silent: true, shape: { cx: 2054, cy: 942, r: 19 }, style: { fill: "rgba(10,16,35,0.6)", stroke: "#ab47bc", lineWidth: 3 } },
  { type: "polygon", z: 93, silent: true, shape: { points: [[2059, 930], [2046, 946], [2053, 946], [2049, 956], [2062, 940], [2055, 940]] }, style: { fill: "#ab47bc" } },
  { type: "circle", z: 94, silent: true, shape: { cx: 2068, cy: 928, r: 5 }, style: { fill: C.red } },

  ...rightTag(109, 966, "205.55", "#ffb300", "#0d1220"),
  ...rightTag(109, 1000, "182.11", "#2b2bff", "#ffffff"),
  ...rightTag(109, 1047, "−23.44", "#ff5252", "#ffffff"),
  ...rightTag(93, 1154, "66.06", C.yellow, "#0d1220"),
  ...rightTag(93, 1188, "59.98", "#7e57c2", "#ffffff"),
  txt("40.00", 2316, 1248, "#b2b5be", 25.5, "right"),

  box(12, 1133, 127, 50, "#131a27", 10, "#3a3f4b"),
  txt("USDT", 21, 1158, "#d1d4dc", 27),
  box(167, 1137, 65, 41, "rgba(35,41,54,0.75)", 6, "#353a46"),
  chevron(180, 1154, 15, 8, "#d1d4dc"),
  txt("2", 214, 1158, "#d1d4dc", 25, "center"),
  txt("3,000.00", 130, 1226, "#b2b5be", 25.5, "right"),

  box(168, 1230, 70, 39, "#0f1626", 0, undefined, 0, 95),
  { type: "polygon", z: 96, silent: true, shape: { points: [[172, 1236], [199, 1236], [199, 1264], [183, 1264], [183, 1247], [172, 1247]] }, style: { fill: "#d1d4dc" } },
  { type: "circle", z: 96, silent: true, shape: { cx: 206, cy: 1241, r: 6 }, style: { fill: "#d1d4dc" } },
  { type: "polygon", z: 96, silent: true, shape: { points: [[218, 1236], [232, 1236], [220, 1264], [206, 1264]] }, style: { fill: "#d1d4dc" } },

  { type: "circle", z: 92, silent: true, shape: { cx: 76, cy: 1322, r: 19 }, style: { fill: "#1c212d" } },
  txt("Z", 76, 1322, "#787b86", 22, "center"),
  { type: "circle", z: 92, silent: true, shape: { cx: 2295, cy: 1322, r: 19 }, style: { fill: "#1c212d" } },
  txt("A", 2295, 1322, "#787b86", 22, "center"),
];

const polygon = (pts: number[][], fill: string, xi: number, yi: number, z: number) => ({
  type: "custom", coordinateSystem: "cartesian2d", xAxisIndex: xi, yAxisIndex: yi, z, silent: true, clip: true, data: [[0, 0]],
  renderItem: (_: any, api: any) => ({ type: "polygon", shape: { points: pts.map((p) => api.coord(p)) }, style: { fill } }),
});
const bandPts = (upper: number[][], lower: number[][]) => [...upper, ...[...lower].reverse()];

const rsiExcess = (isOver: boolean, fill: any) => {
  const lim = isOver ? 70 : 30;
  return {
    type: "custom", coordinateSystem: "cartesian2d", xAxisIndex: 5, yAxisIndex: 4, z: 3, silent: true, clip: true, data: [[0, 0]],
    renderItem: (_: any, api: any) => {
      const children: any[] = [];
      let run: number[][] = [];
      const flush = () => {
        if (run.length) {
          const poly = [[run[0][0], lim], ...run, [run[run.length - 1][0], lim]];
          children.push({ type: "polygon", shape: { points: poly.map((p) => api.coord(p)) }, style: { fill } });
        }
        run = [];
      };
      rsiLine.forEach((p) => { if (isOver ? p[1] > lim : p[1] < lim) run.push(p); else flush(); });
      flush();
      return { type: "group", children };
    },
  };
};

const line = (data: number[][], color: string, width: number, xi: number, yi: number, z = 3, smooth: number | boolean = 0.2, type: any = "solid") => ({
  type: "line", data, xAxisIndex: xi, yAxisIndex: yi, z, smooth, showSymbol: false, symbol: "none", silent: true, clip: true,
  lineStyle: { color, width, type, cap: "round" },
});
const marks = (xi: number, yi: number, z: number, data: any[], lineStyle: any) => ({
  type: "line", xAxisIndex: xi, yAxisIndex: yi, z, data: [], showSymbol: false, silent: true,
  markLine: { silent: true, symbol: ["none", "none"], animation: false, label: { show: false }, lineStyle, data },
});

const priceLabel = (v: number) => v.toLocaleString("en-US", { minimumFractionDigits: 2, maximumFractionDigits: 2 });

const hiddenX = (gridIndex: number) => ({ type: "value", gridIndex, min: -2.5, max: 344.5, show: false, splitLine: { show: false } });
const hiddenCat = (gridIndex: number) => ({ type: "category", gridIndex, data: categories, show: false, boundaryGap: true });

const option: any = {
  animation: false,
  backgroundColor: "#0a1023",
  textStyle: { fontFamily: FONT },
  graphic: { elements: graphics },
  grid: [
    { left: GRID_LEFT, width: GRID_WIDTH, top: 0, height: 987.7 },
    { left: GRID_LEFT, width: GRID_WIDTH, top: 970, height: 152 },
    { left: GRID_LEFT, width: GRID_WIDTH, top: 1125, height: 167 },
  ],
  xAxis: [
    hiddenCat(0),
    hiddenX(0),
    hiddenX(1),
    hiddenCat(1),
    {
      type: "category", gridIndex: 2, data: categories, boundaryGap: true,
      axisLine: { show: false }, axisTick: { show: false }, splitLine: { show: false },
      axisLabel: {
        margin: 17, color: "#b2b5be", fontSize: 25, fontFamily: FONT, hideOverlap: false,
        interval: (i: number) => monthStarts.includes(i - 2),
        formatter: (v: string) => {
          const [y, m] = v.split("-");
          return y === "2025" ? "{b|2025}" : `${m}月`;
        },
        rich: { b: { fontWeight: "bold", fontSize: 25, color: "#c3c6ce", fontFamily: FONT } },
      },
    },
    hiddenX(2),
  ],
  yAxis: [
    {
      type: "value", gridIndex: 0, min: 1600, max: 4504.97, interval: 200, position: "left",
      axisLine: { show: false }, axisTick: { show: false },
      axisLabel: { margin: 17, color: "#b2b5be", fontSize: 25.5, fontFamily: FONT, formatter: (v: number) => (priceTicksShown.includes(v) ? priceLabel(v) : "") },
      splitLine: { show: true, showMinLine: false, showMaxLine: false, lineStyle: { color: GRIDLINE, width: 2 } },
    },
    { type: "value", gridIndex: 0, min: -489.6, max: 23215, show: false, splitLine: { show: false } },
    { type: "value", gridIndex: 1, min: -281, max: 383, show: false, splitLine: { show: false } },
    { type: "value", gridIndex: 1, min: -193, max: 263, show: false, splitLine: { show: false } },
    { type: "value", gridIndex: 2, min: 19.77, max: 97.44, show: false, splitLine: { show: false } },
  ],
  series: [
    marks(1, 0, 1, monthStarts.map((d) => ({ xAxis: d })), { color: GRIDLINE, width: 2, type: "solid" }),
    marks(2, 2, 1, monthStarts.map((d) => ({ xAxis: d })), { color: GRIDLINE, width: 2, type: "solid" }),
    marks(5, 4, 1, monthStarts.map((d) => ({ xAxis: d })), { color: GRIDLINE, width: 2, type: "solid" }),

    {
      type: "bar", xAxisIndex: 0, yAxisIndex: 1, z: 1, barWidth: 4, silent: true,
      data: volumes.map((v, i) => ({ value: v, itemStyle: { color: candles[i][1] >= candles[i][0] ? "#21615b" : "#7d2d32" } })),
    },

    polygon(bandPts(bandLightUpper, bandLightLower), "rgba(80,140,215,0.06)", 1, 0, 2),
    polygon(bandPts(bandDarkUpper, bandDarkLower), "rgba(80,140,215,0.06)", 1, 0, 2),

    line(emaGreen, C.green, 2, 1, 0),
    line(bandLightUpper, C.light, 2, 1, 0, 3, 0.1),
    line(bandLightLower, C.light, 2, 1, 0, 3, 0.1),
    line(bandDarkUpper, C.dark, 2.2, 1, 0, 3, 0.1),
    line(bandDarkLower, C.dark, 2.2, 1, 0, 3, 0.1),
    line(emaYellow, C.yellow, 2, 1, 0),
    line(emaRed, C.red, 2, 1, 0),

    marks(1, 0, 3, levelPink.map((v) => ({ yAxis: v })), { color: C.pink, width: 4, type: "solid" }),
    marks(1, 0, 3, levelPurple.map((v) => ({ yAxis: v })), { color: C.purple, width: 4, type: "solid" }),
    marks(1, 0, 3, levelCyan.map((v) => ({ yAxis: v })), { color: C.cyan, width: 4, type: "solid" }),

    line(trendWhiteUpper, "#ffffff", 4.5, 1, 0, 4, false),
    line(trendWhiteLower, "#ffffff", 4.5, 1, 0, 4, false),
    polygon(bandPts(channelUpper, channelLower), "rgba(41,98,255,0.22)", 1, 0, 5),

    {
      type: "candlestick", xAxisIndex: 0, yAxisIndex: 0, z: 6, barWidth: 4, silent: true,
      data: candles,
      itemStyle: { color: C.up, color0: "#ffffff", borderColor: C.up, borderColor0: "#ffffff", borderWidth: 1.5 },
    },

    marks(1, 0, 6, [{ yAxis: lastPrice }], { color: "#ffffff", width: 2, type: [2, 5] }),
    line(channelUpper, C.green, 4, 1, 0, 7, false),
    line(channelLower, C.green, 4, 1, 0, 7, false),
    line(channelMiddle, C.green, 1.5, 1, 0, 7, false, [9, 13]),

    marks(2, 2, 2, [{ yAxis: 0 }], { color: "rgba(120,123,134,0.7)", width: 2, type: [8, 6] }),
    {
      type: "bar", xAxisIndex: 3, yAxisIndex: 3, z: 2, barWidth: 4, silent: true,
      data: hist.map((v, i) => {
        const prev = i > 0 ? hist[i - 1] : 0;
        const color = v >= 0 ? (v >= prev ? "#26a69a" : "#b2dfdb") : v < prev ? "#ff5252" : "#ffcdd2";
        return { value: v, itemStyle: { color } };
      }),
    },
    line(macdLine, "#2b2bff", 2.2, 2, 2, 3, 0.15),
    line(macdSignal, "#ffb300", 2.2, 2, 2, 4, 0.25),

    {
      ...marks(5, 4, 2, rsiLevels.map((v) => ({ yAxis: v })), { color: "#8a8d96", width: 2, type: [9, 9] }),
      markArea: { silent: true, itemStyle: { color: "rgba(126,87,194,0.16)" }, data: [[{ yAxis: 30 }, { yAxis: 70 }]] },
    },
    marks(5, 4, 1, [{ yAxis: 92.47 }], { color: GRIDLINE, width: 2, type: "solid" }),
    rsiExcess(true, grad("rgba(76,175,80,0.45)", "rgba(76,175,80,0.12)")),
    rsiExcess(false, grad("rgba(242,54,69,0.12)", "rgba(242,54,69,0.4)")),
    line(rsiLong, "#2962ff", 2.2, 5, 4, 3),
    line(rsiLine, "#7e57c2", 2, 5, 4, 4, false),
    line(rsiAverage, C.yellow, 2.2, 5, 4, 5),
  ],
};

export default function App() {
  const ref = useRef<HTMLDivElement>(null);
  useEffect(() => {
    document.body.style.margin = "0";
    document.body.style.background = "#0a1023";
    const chart = echarts.init(ref.current!, undefined, { renderer: "svg", width: 2358, height: 1348 });
    chart.setOption(option);
    return () => chart.dispose();
  }, []);
  return <div ref={ref} style={{ width: 2358, height: 1348, position: "absolute", left: 0, top: 0 }} />;
}
